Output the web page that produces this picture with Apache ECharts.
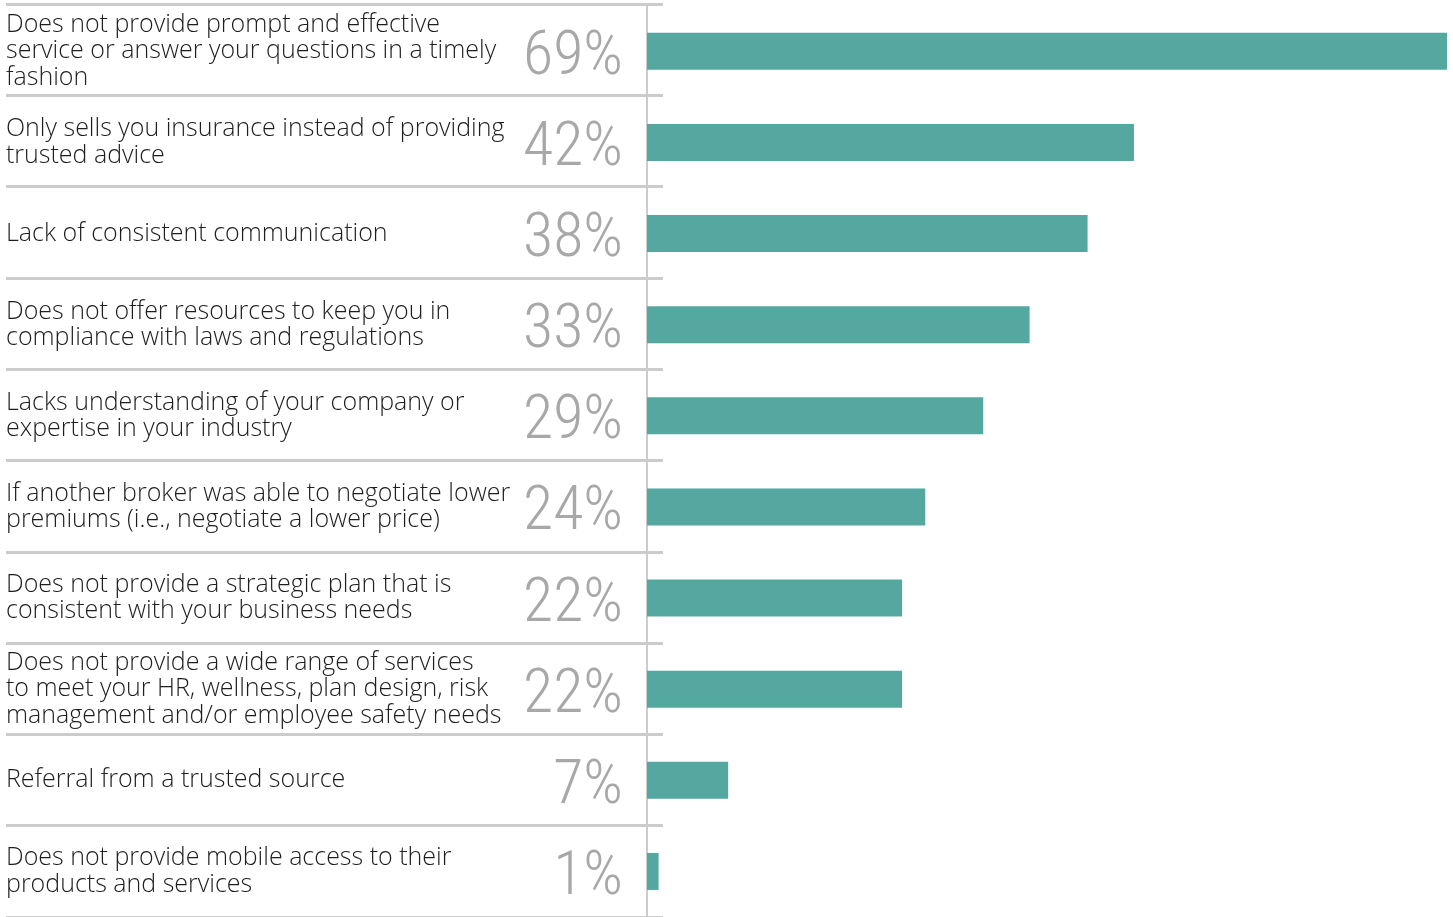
<!DOCTYPE html>
<html><head><meta charset="utf-8">
<script src="https://cdn.jsdelivr.net/npm/echarts@6/dist/echarts.min.js"></script>
<style>html,body{margin:0;padding:0;background:#fff;}#c{width:1453px;height:917px;}</style>
</head><body><div id="c"></div>
<script>
const categories = [
  "Does not provide prompt and effective\nservice or answer your questions in a timely\nfashion",
  "Only sells you insurance instead of providing\ntrusted advice",
  "Lack of consistent communication",
  "Does not offer resources to keep you in\ncompliance with laws and regulations",
  "Lacks understanding of your company or\nexpertise in your industry",
  "If another broker was able to negotiate lower\npremiums (i.e., negotiate a lower price)",
  "Does not provide a strategic plan that is\nconsistent with your business needs",
  "Does not provide a wide range of services\nto meet your HR, wellness, plan design, risk\nmanagement and/or employee safety needs",
  "Referral from a trusted source",
  "Does not provide mobile access to their\nproducts and services"
];
const values = [69, 42, 38, 33, 29, 24, 22, 22, 7, 1];
const valueLabels = values.map(v => v + '%');

const chart = echarts.init(document.getElementById('c'));
chart.setOption({
  animation: false,
  grid: [
    {left: 647, right: 6, top: 5.8, height: 914},
    {left: 6, width: 657, top: 4, height: 918}
  ],
  xAxis: [
    {gridIndex: 0, type: 'value', min: 0, max: 69, show: false},
    {gridIndex: 1, type: 'value', min: 0, max: 1, show: false}
  ],
  yAxis: [
    {gridIndex: 0, type: 'category', data: categories, inverse: true,
     axisLine: {show: true, lineStyle: {color: '#cccccc', width: 2}},
     axisTick: {show: false}, splitLine: {show: false},
     axisLabel: {align: 'left', margin: 641, color: '#1e1e1e', fontFamily: 'Open Sans', fontWeight: 300, fontSize: 25, lineHeight: 26.5}},
    {gridIndex: 0, type: 'category', data: valueLabels, inverse: true, position: 'left',
     axisLine: {show: false}, axisTick: {show: false}, splitLine: {show: false},
     axisLabel: {align: 'right', margin: 24,
       formatter: v => '{p|' + v + '}',
       rich: {p: {color: '#a8a8a8', fontFamily: 'Roboto Condensed', fontWeight: 300, fontSize: 62, lineHeight: 62, padding: [14, 0, 0, 0]}}}},
    {gridIndex: 1, type: 'category', data: categories, inverse: true,
     axisLine: {show: false}, axisTick: {show: false}, axisLabel: {show: false},
     splitLine: {show: true, lineStyle: {color: '#cccccc', width: 3}}}
  ],
  series: [{
    type: 'bar', xAxisIndex: 0, yAxisIndex: 0, data: values, barWidth: 37,
    itemStyle: {color: '#55a89f'}, silent: true
  }]
});
</script></body></html>
